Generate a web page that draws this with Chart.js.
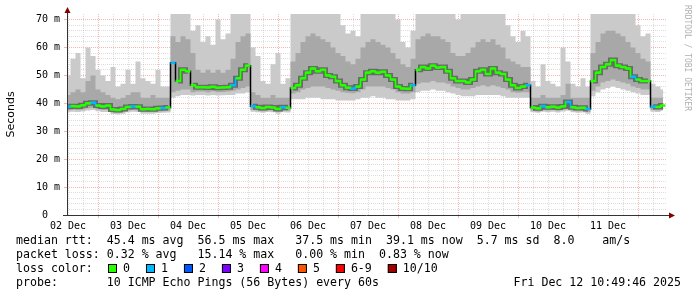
<!DOCTYPE html>
<html>
<head>
<meta charset="utf-8">
<script src="https://cdn.jsdelivr.net/npm/chart.js@4.4.0/dist/chart.umd.min.js"></script>
<style>
  html, body { margin: 0; padding: 0; background: #fff; }
  canvas { display: block; }
</style>
</head>
<body>
<canvas id="smoke" width="697" height="297"></canvas>
<script>
// one value per 2 hour bucket, first bucket at Dec 2 12:00 (hours counted from Dec 2 00:00)
const firstHour = 12;
const stepHours = 2;

const dayLabels = ['02 Dec', '03 Dec', '04 Dec', '05 Dec', '06 Dec', '07 Dec', '08 Dec', '09 Dec', '10 Dec', '11 Dec'];

// median rtt in ms
const median = [
  38.8, 39.0, 38.9, 39.3, 40.0, 40.2, 39.2, 38.9, 39.2, 37.8,
  37.6, 38.0, 38.7, 38.9, 38.8, 37.9, 38.0, 37.9, 38.2, 38.3,
  38.5, 54.5, 48.0, 52.0, 51.5, 46.5, 45.8, 45.8, 45.7, 45.9,
  45.6, 45.7, 45.8, 46.5, 49.0, 52.0, 53.5, 39.0, 38.6, 38.3,
  38.7, 38.5, 38.0, 38.6, 38.4, 45.5, 46.5, 49.0, 51.0, 52.5,
  51.5, 52.0, 50.0, 49.5, 48.0, 46.5, 45.6, 45.3, 46.0, 48.5,
  51.0, 51.5, 51.0, 51.3, 50.0, 48.5, 46.0, 45.3, 45.2, 46.5,
  52.0, 53.0, 52.5, 53.5, 52.8, 53.0, 51.5, 49.0, 48.0, 48.0,
  47.5, 48.5, 51.5, 52.0, 50.5, 52.5, 51.0, 50.5, 48.5, 46.5,
  45.5, 46.0, 46.5, 38.5, 38.2, 39.0, 38.6, 38.8, 38.5, 38.9,
  40.5, 38.6, 38.3, 38.4, 38.0, 48.0, 51.0, 53.0, 54.0, 55.5,
  53.5, 53.0, 52.5, 49.5, 48.5, 48.0, 48.0, 38.8, 38.7, 39.2
];

// lost pings out of 10 per bucket
const lossCount = [
  1, 0, 0, 0, 0, 1, 0, 0, 0, 0,
  0, 0, 0, 1, 0, 0, 0, 0, 0, 1,
  0, 1, 0, 0, 0, 0, 0, 0, 0, 0,
  0, 0, 0, 1, 0, 0, 0, 1, 0, 0,
  0, 0, 0, 1, 0, 0, 0, 0, 0, 0,
  0, 0, 0, 0, 0, 0, 0, 1, 0, 0,
  0, 0, 0, 0, 0, 0, 0, 0, 0, 1,
  0, 0, 0, 0, 0, 0, 0, 0, 0, 0,
  0, 0, 0, 0, 0, 0, 0, 0, 0, 0,
  0, 0, 1, 0, 0, 1, 0, 0, 0, 0,
  1, 0, 0, 0, 1, 0, 0, 0, 0, 0,
  0, 0, 0, 1, 0, 0, 0, 1, 0, 0
];

// smoke: slowest ping, upper/lower edge of the dense part, fastest ping (ms)
const smokeMax = [
  50, 56, 58, 49, 60, 57, 52, 50, 48, 53,
  46, 47, 52, 47, 55, 49, 48, 47, 52, 46,
  46, 72, 72, 72, 72, 66, 68, 62, 64, 61,
  70, 63, 65, 72, 72, 72, 72, 60, 57, 48,
  47, 54, 58, 47, 49, 72, 72, 72, 72, 72,
  72, 72, 72, 72, 72, 68, 65, 66, 64, 72,
  72, 72, 72, 72, 72, 72, 70, 62, 60, 66,
  72, 72, 72, 72, 72, 72, 72, 72, 70, 72,
  72, 72, 72, 72, 72, 72, 72, 72, 68, 64,
  62, 66, 64, 48, 46, 54, 48, 47, 46, 60,
  55, 47, 46, 49, 46, 72, 72, 72, 72, 72,
  72, 72, 72, 72, 68, 64, 65, 47, 46, 45
];
const smokeHigh = [
  43, 44, 45, 44, 48, 50, 45, 44, 43, 42,
  41.5, 42, 43, 44, 44, 42, 42, 43, 42, 42,
  42, 64, 62, 64, 63, 58, 52, 51, 52, 51,
  52, 51, 52, 56, 62, 64, 65, 44, 43, 42,
  42, 43, 42, 42, 42, 55, 58, 62, 64, 65,
  64, 63, 62, 60, 58, 57, 55, 54, 56, 60,
  62, 63, 62, 61, 60, 58, 56, 54, 53, 56,
  63, 64, 65, 64, 64, 63, 62, 58, 57, 57,
  58, 60, 62, 63, 62, 63, 61, 60, 56, 55,
  54, 53, 53, 42, 42, 43, 42, 42, 42, 43,
  47, 42, 42, 42, 42, 58, 62, 65, 66, 66,
  65, 64, 62, 60, 58, 56, 55, 42, 42, 42
];
const smokeLow = [
  37.5, 37.8, 37.6, 37.8, 38.2, 38.4, 37.9, 37.6, 37.6, 36.8,
  36.6, 36.9, 37.4, 37.6, 37.5, 36.9, 36.9, 36.9, 37.1, 37.2,
  37.3, 44.0, 44.5, 45.0, 45.0, 44.0, 44.2, 44.2, 44.0, 44.3,
  44.0, 44.1, 44.2, 44.5, 45.0, 45.5, 46.0, 37.6, 37.4, 37.2,
  37.5, 37.4, 36.9, 37.4, 37.3, 43.5, 44.0, 45.0, 45.5, 46.0,
  46.0, 46.0, 45.5, 45.0, 44.5, 44.0, 43.8, 43.6, 44.0, 45.0,
  46.0, 46.0, 46.0, 46.0, 45.5, 45.0, 44.0, 43.5, 43.5, 44.0,
  47.0, 47.5, 47.5, 48.0, 47.5, 47.5, 47.0, 46.0, 45.5, 45.0,
  45.0, 45.5, 46.0, 46.5, 46.0, 46.5, 46.0, 45.5, 45.0, 44.0,
  43.8, 44.0, 44.0, 37.4, 37.1, 37.6, 37.4, 37.6, 37.3, 37.7,
  38.0, 37.4, 37.2, 37.3, 36.9, 44.5, 46.0, 47.5, 48.0, 48.5,
  48.0, 47.5, 47.0, 46.0, 45.5, 45.0, 45.0, 37.6, 37.5, 37.9
];
const smokeMin = [
  36.8, 37.0, 36.9, 37.1, 37.4, 37.6, 37.2, 36.9, 36.9, 36.2,
  36.0, 36.3, 36.8, 37.0, 36.9, 36.3, 36.3, 36.3, 36.5, 36.6,
  36.7, 42.0, 42.5, 43.0, 43.0, 42.8, 43.0, 43.0, 42.8, 43.0,
  42.8, 42.9, 43.0, 43.0, 43.5, 43.5, 44.0, 37.0, 36.8, 36.6,
  36.9, 36.8, 36.3, 36.8, 36.7, 41.5, 41.5, 41.5, 42.0, 42.0,
  42.0, 41.5, 41.5, 41.5, 41.0, 41.0, 41.0, 41.0, 41.5, 42.0,
  42.0, 42.5, 42.0, 42.0, 41.5, 41.5, 41.0, 41.0, 41.0, 41.5,
  44.0, 44.5, 44.5, 45.0, 44.5, 44.5, 44.0, 43.5, 43.0, 42.5,
  42.5, 42.5, 43.0, 43.0, 43.0, 43.0, 43.0, 42.5, 42.0, 42.0,
  42.0, 42.0, 42.0, 36.8, 36.6, 37.0, 36.8, 37.0, 36.7, 37.1,
  37.3, 36.8, 36.6, 36.7, 36.3, 42.5, 44.0, 45.0, 45.5, 46.0,
  45.5, 45.0, 44.5, 44.0, 43.5, 43.0, 43.0, 37.0, 36.9, 37.3
];

const lossLabels = ['0', '1', '2', '3', '4', '5', '6-9', '10/10'];
const lossColors = ['#26ff00', '#00b8ff', '#0059ff', '#7e00ff', '#ff00ff', '#ff5500', '#ff0000', '#a10000'];

const legendLines = [
  'median rtt:  45.4 ms avg  56.5 ms max   37.5 ms min  39.1 ms now  5.7 ms sd  8.0    am/s',
  'packet loss: 0.32 % avg   15.14 % max   0.00 % min  0.83 % now',
  'loss color:',
  'probe:       10 ICMP Echo Pings (56 Bytes) every 60s'
];
const stampText = 'Fri Dec 12 10:49:46 2025';

const MONO = 'DejaVu Sans Mono';
const gridRed = 'rgba(230,60,60,0.38)';
const gridGray = 'rgba(150,150,150,0.32)';

const hours = median.map((_, i) => firstHour + i * stepHours);
const pts = arr => arr.map((v, i) => ({ x: hours[i], y: v }));
const lossColor = n => lossColors[n >= 10 ? 7 : n >= 6 ? 6 : n];
const isJump = c => Math.abs(c.p1.parsed.y - c.p0.parsed.y) > 4;

const decorations = {
    id: 'decorations',
    afterDraw(chart) {
        const { ctx, chartArea: a } = chart;
        ctx.save();

        // axes with arrows
        ctx.strokeStyle = '#333';
        ctx.lineWidth = 1;
        ctx.beginPath();
        ctx.moveTo(a.left - 4, a.bottom + 0.5);
        ctx.lineTo(a.right + 3, a.bottom + 0.5);
        ctx.moveTo(a.left + 0.5, a.bottom + 1);
        ctx.lineTo(a.left + 0.5, a.top - 3);
        ctx.stroke();
        ctx.fillStyle = '#7f0000';
        ctx.beginPath();
        ctx.moveTo(a.right + 8, a.bottom + 0.5);
        ctx.lineTo(a.right + 2, a.bottom - 2.5);
        ctx.lineTo(a.right + 2, a.bottom + 3.5);
        ctx.fill();
        ctx.beginPath();
        ctx.moveTo(a.left + 0.5, a.top - 7);
        ctx.lineTo(a.left - 2.5, a.top - 1);
        ctx.lineTo(a.left + 3.5, a.top - 1);
        ctx.fill();

        // y title
        ctx.fillStyle = '#000';
        ctx.font = '11px "DejaVu Sans"';
        ctx.textAlign = 'center';
        ctx.textBaseline = 'middle';
        ctx.translate(11, (a.top + a.bottom) / 2);
        ctx.rotate(-Math.PI / 2);
        ctx.fillText('Seconds', 0, 0);
        ctx.setTransform(1, 0, 0, 1, 0, 0);

        // watermark
        ctx.fillStyle = '#b0b0b0';
        ctx.font = '8px "' + MONO + '"';
        ctx.textAlign = 'left';
        ctx.translate(687, 5);
        ctx.rotate(Math.PI / 2);
        ctx.fillText('RRDTOOL / TOBI OETIKER', 0, 0);
        ctx.setTransform(1, 0, 0, 1, 0, 0);

        // legend
        ctx.fillStyle = '#000';
        ctx.font = '11.6px "' + MONO + '"';
        ctx.textAlign = 'left';
        ctx.textBaseline = 'middle';
        const rows = [241, 255, 269, 283];
        legendLines.forEach((t, i) => ctx.fillText(t, 16, rows[i]));
        ctx.textAlign = 'right';
        ctx.fillText(stampText, 681, rows[3]);

        ctx.textAlign = 'left';
        let x = 108;
        lossLabels.forEach((lab, i) => {
            ctx.fillStyle = lossColors[i];
            ctx.fillRect(x, 264, 9, 9);
            ctx.strokeStyle = '#000';
            ctx.strokeRect(x + 0.5, 264.5, 8, 8);
            ctx.fillStyle = '#000';
            ctx.fillText(lab, x + 15, rows[2]);
            x += 15 + ctx.measureText(lab).width + 16;
        });

        ctx.restore();
    }
};

const line = (arr, extra) => Object.assign({
    data: pts(arr),
    stepped: 'middle',
    pointRadius: 0,
    borderWidth: 0,
    borderColor: 'transparent'
}, extra);

new Chart(document.getElementById('smoke'), {
    type: 'line',
    data: {
        datasets: [
            // median coloured by loss: dashes per bucket plus the small steps between them
            {
                data: pts(median),
                showLine: false,
                pointStyle: 'line',
                pointRadius: 2.5,
                pointBorderWidth: 2.5,
                pointBorderColor: lossCount.map(lossColor)
            },
            line(median, {
                borderColor: lossColors[0],
                borderWidth: 2,
                segment: { borderColor: c => isJump(c) ? 'transparent' : lossColor(lossCount[c.p0DataIndex]) }
            }),
            line(median, { borderColor: '#000', borderWidth: 1.5 }),
            line(median, {
                borderColor: '#6a6a6a',
                borderWidth: 5,
                segment: { borderColor: c => isJump(c) ? 'transparent' : undefined }
            }),
            line(smokeHigh, { fill: 5, backgroundColor: '#a8a8a8' }),
            line(smokeLow),
            line(smokeMax, { fill: 7, backgroundColor: '#cacaca' }),
            line(smokeMin)
        ]
    },
    options: {
        responsive: false,
        animation: false,
        events: [],
        layout: { padding: { left: 0, right: 30, top: 14, bottom: 0 } },
        plugins: { legend: { display: false }, tooltip: { enabled: false } },
        scales: {
            x: {
                type: 'linear',
                min: 11.6,
                max: 251.6,
                z: 1,
                afterBuildTicks: axis => {
                    const t = [];
                    for (let h = 12; h < 251.6; h += 6) t.push({ value: h });
                    axis.ticks = t;
                },
                afterFit: axis => { axis.height = 82; },
                ticks: {
                    autoSkip: false,
                    maxRotation: 0,
                    padding: 2,
                    color: '#000',
                    font: { family: MONO, size: 10 },
                    callback: v => (v - 12) % 24 === 0 ? dayLabels[(v - 12) / 24] : ''
                },
                grid: {
                    color: c => c.tick.value % 24 === 0 ? gridRed : gridGray,
                    tickLength: 3,
                    tickColor: c => c.tick.value % 24 === 0 ? gridRed : 'transparent'
                },
                border: { display: false, dash: [1, 1] }
            },
            y: {
                min: 0,
                max: 72,
                z: 1,
                afterBuildTicks: axis => {
                    const t = [];
                    for (let v = 0; v <= 70; v += 2) t.push({ value: v });
                    axis.ticks = t;
                },
                afterFit: axis => { axis.width = 67; },
                ticks: {
                    autoSkip: false,
                    padding: 4,
                    color: '#000',
                    font: { family: MONO, size: 10 },
                    callback: v => v % 10 ? '' : (v ? v + ' m' : '0  ')
                },
                grid: {
                    color: c => c.tick.value === 0 ? 'transparent' : (c.tick.value % 10 ? gridGray : gridRed),
                    tickLength: 3,
                    tickColor: c => c.tick.value % 10 === 0 ? gridRed : 'transparent'
                },
                border: { display: false, dash: [1, 1] }
            }
        }
    },
    plugins: [decorations]
});
</script>
</body>
</html>
